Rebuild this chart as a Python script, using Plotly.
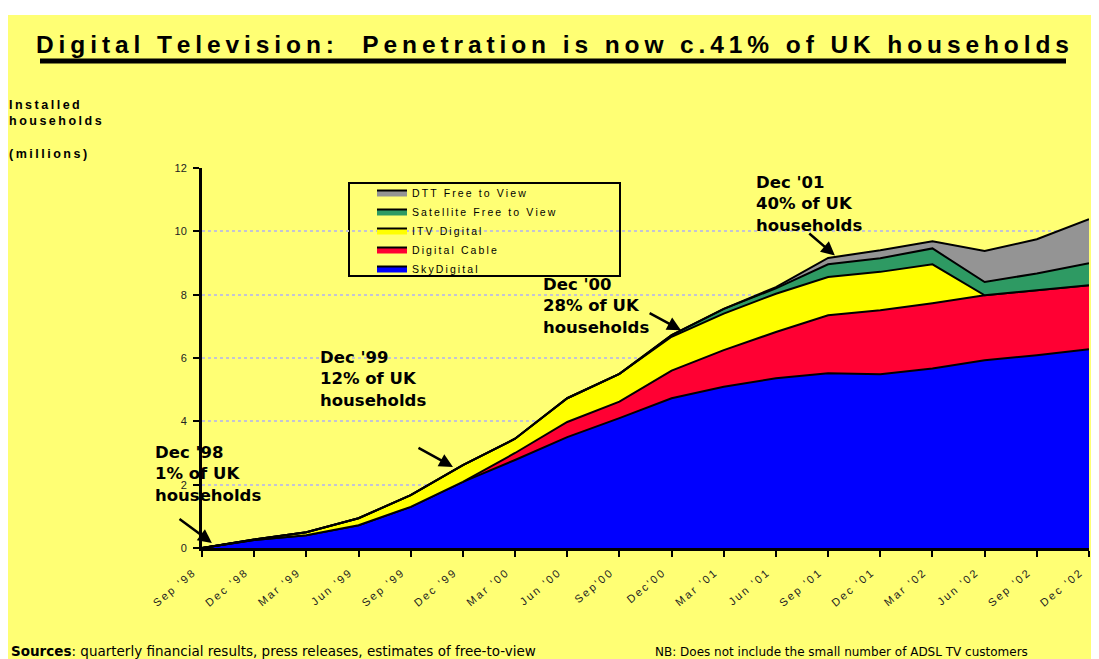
import plotly.graph_objects as go

# quarters on the category axis
quarters = ["Sep '98", "Dec '98", "Mar '99", "Jun '99", "Sep '99", "Dec '99",
            "Mar '00", "Jun '00", "Sep'00", "Dec'00", "Mar '01", "Jun '01",
            "Sep '01", "Dec '01", "Mar '02", "Jun '02", "Sep '02", "Dec '02"]

# installed households, millions
sky_digital = [0.0, 0.25, 0.40, 0.72, 1.30, 2.09, 2.78, 3.50, 4.10, 4.73, 5.09, 5.36,
               5.52, 5.49, 5.67, 5.93, 6.09, 6.28]
digital_cable = [0.0, 0.0, 0.0, 0.0, 0.0, 0.0, 0.22, 0.48, 0.52, 0.87, 1.16, 1.46,
                 1.83, 2.02, 2.06, 2.05, 2.05, 2.02]
itv_digital = [0.0, 0.02, 0.10, 0.22, 0.37, 0.53, 0.45, 0.75, 0.88, 1.07, 1.15, 1.21,
               1.21, 1.21, 1.23, 0.0, 0.0, 0.0]
satellite_ftv = [0.0, 0.0, 0.0, 0.0, 0.0, 0.0, 0.0, 0.0, 0.0, 0.05, 0.15, 0.17,
                 0.40, 0.43, 0.50, 0.42, 0.53, 0.69]
dtt_ftv = [0.0, 0.0, 0.0, 0.0, 0.0, 0.0, 0.0, 0.0, 0.0, 0.0, 0.0, 0.04,
           0.20, 0.25, 0.23, 0.98, 1.08, 1.39]

series = [
    ("SkyDigital", sky_digital, "#0000FF"),
    ("Digital Cable", digital_cable, "#FF0033"),
    ("ITV Digital", itv_digital, "#FFFF00"),
    ("Satellite Free to View", satellite_ftv, "#2E9A63"),
    ("DTT Free to View", dtt_ftv, "#949494"),
]

# milestone call-outs: (lines, text left px, text top px, arrow tail, arrow head in data units)
callouts = [
    (["Dec '98", "1% of UK", "households"], 153, 441, (-0.46, 0.95), (0.19, 0.16)),
    (["Dec '99", "12% of UK", "households"], 318, 346, (4.12, 3.19), (4.81, 2.56)),
    (["Dec '00", "28% of UK", "households"], 541, 273, (8.55, 7.44), (9.18, 6.88)),
    (["Dec '01", "40% of UK", "households"], 754, 171, (11.61, 9.97), (12.13, 9.24)),
]

BG = "#FFFF74"
W, H = 1099, 659
L, R, T, B = 194, 18, 160, 119
OFF = 8  # page body margin
x = list(range(len(quarters)))
THIN = "\u2009"


def spaced(s, gap=THIN):
    # mimic the wide letter tracking of the original slide
    return gap.join(s)


def fx(px):
    return (px - OFF - L) / (W - L - R)


def fy(py):
    return (H - B - (py - OFF)) / (H - T - B)


fig = go.Figure()
for name, vals, col in series:
    fig.add_trace(go.Scatter(x=x, y=vals, name=spaced(name), mode="lines", stackgroup="one",
                             line=dict(color="black", width=2), fillcolor=col,
                             hoverinfo="skip"))

for lines, tx, ty, tail, head in callouts:
    fig.add_annotation(x=fx(tx), y=fy(ty), xref="paper", yref="paper",
                       text="<br>".join(lines), showarrow=False, xanchor="left",
                       yanchor="top", align="left",
                       font=dict(family="DejaVu Sans", size=16.5, color="black", weight="bold"))
    fig.add_annotation(x=head[0], y=head[1], ax=tail[0], ay=tail[1], xref="x", yref="y",
                       axref="x", ayref="y", text="", showarrow=True, arrowhead=2,
                       arrowsize=1.1, arrowwidth=2.5, arrowcolor="black")

# title, axis caption and footnotes
fig.add_annotation(x=fx(552), y=fy(44), xref="paper", yref="paper",
                   yanchor="middle", xanchor="center", showarrow=False,
                   text=spaced("Digital Television:  Penetration is now c.41% of UK households"),
                   font=dict(family="Liberation Sans, Arial", size=24.5, color="black",
                             weight="bold"))
fig.add_annotation(x=fx(7), y=fy(96), xref="paper", yref="paper", xanchor="left",
                   yanchor="top", showarrow=False, align="left",
                   text="<br>".join(spaced(s) for s in ["Installed", "households", "", "(millions)"]),
                   font=dict(family="Liberation Sans, Arial", size=12.5, color="black",
                             weight="bold"))
fig.add_annotation(x=fx(9), y=fy(651), xref="paper", yref="paper", xanchor="left",
                   yanchor="middle", showarrow=False,
                   text="<b>Sources</b>: quarterly financial results, press releases, estimates of free-to-view",
                   font=dict(family="DejaVu Sans", size=13.5, color="black"))
fig.add_annotation(x=fx(653), y=fy(652), xref="paper", yref="paper", xanchor="left",
                   yanchor="middle", showarrow=False,
                   text="NB: Does not include the small number of ADSL TV customers",
                   font=dict(family="DejaVu Sans", size=12, color="black"))

shapes = [
    # white strips round the slide
    dict(type="rect", xref="paper", yref="paper", x0=fx(0), x1=fx(1110),
         y0=fy(15), y1=fy(0), fillcolor="white", line=dict(width=0), layer="below"),
    dict(type="rect", xref="paper", yref="paper", x0=fx(1096), x1=fx(1110),
         y0=fy(670), y1=fy(0), fillcolor="white", line=dict(width=0), layer="below"),
    # title underline
    dict(type="line", xref="paper", yref="paper", x0=fx(40), x1=fx(1066),
         y0=fy(61), y1=fy(61), line=dict(color="black", width=5)),
    # legend frame
    dict(type="rect", xref="paper", yref="paper", x0=fx(349), x1=fx(620),
         y0=fy(183), y1=fy(276), line=dict(color="black", width=2), fillcolor=BG,
         layer="below"),
]

tickfont = dict(family="Liberation Sans, Arial", size=11, color="#222")

fig.update_layout(
    width=W, height=H, margin=dict(l=L, r=R, t=T, b=B),
    paper_bgcolor=BG, plot_bgcolor=BG, shapes=shapes,
    legend=dict(x=fx(372), y=fy(178), xanchor="left", yanchor="top",
                traceorder="reversed", bgcolor="rgba(0,0,0,0)", tracegroupgap=0,
                itemwidth=30, font=dict(family="Liberation Sans, Arial", size=10.5,
                                        color="black")),
    xaxis=dict(range=[0, 17], tickvals=x, ticktext=[spaced(q) for q in quarters],
               tickangle=-40, ticklabelshift=-10, ticklabelstandoff=6,
               showgrid=False, zeroline=False, showline=True, linecolor="black",
               linewidth=3, ticks="outside", ticklen=6, tickwidth=2, tickcolor="black",
               tickfont=tickfont),
    yaxis=dict(range=[0, 12], dtick=2, showgrid=True, gridcolor="#C4C4D4", gridwidth=2,
               griddash="dot", zeroline=False, showline=True, linecolor="black",
               linewidth=3, ticks="outside", ticklen=6, tickwidth=2, tickcolor="black",
               tickfont=tickfont, ticklabelstandoff=4),
)

fig.write_html("out.html")
